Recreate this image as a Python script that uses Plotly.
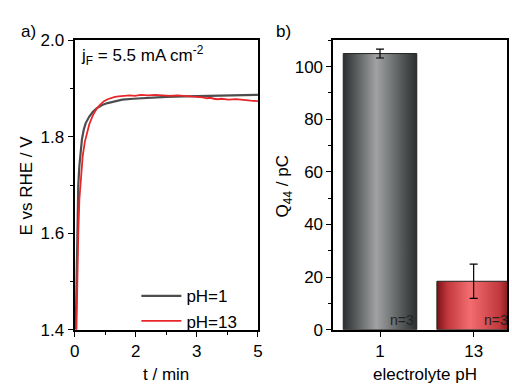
import plotly.graph_objects as go

# ---------------- data ----------------
t_ph1 = [0.03, 0.05, 0.07, 0.10, 0.13, 0.16, 0.20, 0.25, 0.30, 0.40, 0.50, 0.60, 0.75, 0.90,
         1.10, 1.30, 1.60, 2.00, 2.50, 3.00, 3.50, 4.00, 4.50, 5.00]
E_ph1 = [1.400, 1.520, 1.620, 1.700, 1.740, 1.770, 1.795, 1.815, 1.828, 1.842, 1.852, 1.859, 1.866, 1.870,
         1.874, 1.877, 1.879, 1.881, 1.883, 1.884, 1.885, 1.886, 1.886, 1.887]

t_ph13 = [0.05, 0.07, 0.10, 0.13, 0.17, 0.22, 0.28, 0.34, 0.40, 0.50, 0.60, 0.70, 0.80, 0.90, 1.00,
          1.10, 1.20, 1.35, 1.50, 1.65, 1.80, 2.00, 2.20, 2.40, 2.60, 2.80, 3.00, 3.10, 3.20, 3.30,
          3.40, 3.50, 3.60, 3.70, 3.80, 3.90, 4.00, 4.20, 4.40, 4.60, 4.80, 5.00]
E_ph13 = [1.400, 1.500, 1.600, 1.670, 1.720, 1.760, 1.790, 1.810, 1.826, 1.845, 1.858, 1.867, 1.874, 1.878, 1.881,
          1.883, 1.884, 1.885, 1.886, 1.885, 1.887, 1.886, 1.887, 1.886, 1.885, 1.886, 1.885, 1.884, 1.885, 1.883,
          1.884, 1.882, 1.880, 1.881, 1.879, 1.878, 1.879, 1.877, 1.878, 1.876, 1.875, 1.874]

time_tickvals = [0, 5 / 3, 10 / 3, 5]
time_ticktext = ["0", "2", "3", "5"]

ph_labels = ["1", "13"]
Q44 = [105.0, 18.4]
Q44_err = [1.7, 6.5]
n_labels = ["n=3", "n=3"]

# ---------------- styles ----------------
FONT = "Liberation Sans, Arial, sans-serif"
FS = 17
W, H = 512, 392
bar_w = 0.785
grad_scales = [
    [[0, "#2c2f30"], [0.12, "#4a4d4e"], [0.45, "#a0a2a3"], [0.85, "#4a4d4e"], [1, "#2c2f30"]],
    [[0, "#7a1216"], [0.15, "#c3393d"], [0.45, "#f26d70"], [0.85, "#c3393d"], [1, "#7a1216"]],
]

fig = go.Figure()

# panel a curves
fig.add_trace(go.Scatter(x=t_ph1, y=E_ph1, mode="lines", name="pH=1",
                         line=dict(color="#4d4d4d", width=2.2), xaxis="x", yaxis="y"))
fig.add_trace(go.Scatter(x=t_ph13, y=E_ph13, mode="lines", name="pH=13",
                         line=dict(color="#e8262a", width=1.8), xaxis="x", yaxis="y"))

# panel b bars (gradient-filled rectangles built from the data)
for i, (v, cs) in enumerate(zip(Q44, grad_scales)):
    x0, x1 = i - bar_w / 2, i + bar_w / 2
    fig.add_trace(go.Scatter(
        x=[x0, x1, x1, x0, x0], y=[0, 0, v, v, 0], mode="lines", fill="toself",
        fillgradient=dict(type="horizontal", colorscale=cs),
        line=dict(color="#222222", width=1), showlegend=False, hoverinfo="skip",
        xaxis="x2", yaxis="y2"))

fig.add_trace(go.Scatter(
    x=list(range(len(Q44))), y=Q44, mode="markers", marker=dict(size=0.1, color="black"),
    error_y=dict(type="data", array=Q44_err, color="black", thickness=1.2, width=4),
    showlegend=False, xaxis="x2", yaxis="y2"))

axis_common = dict(showline=True, linecolor="black", linewidth=2, mirror=True,
                   ticks="outside", ticklen=5, tickwidth=1.4, tickcolor="black",
                   showgrid=False, zeroline=False,
                   tickfont=dict(family=FONT, size=FS, color="black"))
minor_common = dict(ticks="outside", ticklen=3, tickwidth=1.3, tickcolor="black")

fig.update_layout(
    width=W, height=H,
    margin=dict(l=0, r=0, t=0, b=0),
    paper_bgcolor="white", plot_bgcolor="white",
    font=dict(family=FONT, size=FS, color="black"),
    xaxis=dict(domain=[71 / W, 258 / W], range=[0, 5], tickmode="array",
               tickvals=time_tickvals, ticktext=time_ticktext,
               minor=dict(tick0=0, dtick=5 / 6, **minor_common),
               anchor="y", **axis_common),
    yaxis=dict(domain=[55 / H, 359 / H], range=[1.4, 2.0], tickmode="array",
               tickvals=[1.4, 1.6, 1.8, 2.0], ticktext=["1.4", "1.6", "1.8", "2.0"],
               minor=dict(tick0=1.4, dtick=0.1, **minor_common),
               anchor="x", **axis_common),
    xaxis2=dict(domain=[335 / W, 1], range=[-0.497, 1.356], tickmode="array",
                tickvals=list(range(len(ph_labels))), ticktext=ph_labels,
                anchor="y2", **axis_common),
    yaxis2=dict(domain=[55 / H, 359 / H], range=[0, 110], tickmode="array",
                tickvals=[0, 20, 40, 60, 80, 100],
                minor=dict(tick0=0, dtick=10, **minor_common),
                anchor="x2", **axis_common),
    legend=dict(x=134 / W, y=1 - 283 / H, xanchor="left", yanchor="top",
                bgcolor="rgba(0,0,0,0)", font=dict(family=FONT, size=FS, color="black"),
                itemwidth=40, tracegroupgap=0),
    showlegend=True,
)

ann = []
ann.append(dict(text="a)", x=14 / W, y=1 - 24 / H, xref="paper", yref="paper",
                showarrow=False, xanchor="left", yanchor="middle", font=dict(size=FS)))
ann.append(dict(text="b)", x=274 / W, y=1 - 24 / H, xref="paper", yref="paper",
                showarrow=False, xanchor="left", yanchor="middle", font=dict(size=FS)))
ann.append(dict(text="j<sub>F</sub> = 5.5 mA cm<sup>-2</sup>", x=75 / W, y=1 - 49 / H,
                xref="paper", yref="paper", showarrow=False, xanchor="left", yanchor="middle",
                font=dict(size=FS)))
ann.append(dict(text="E vs RHE / V", x=22 / W, y=1 - 186 / H, xref="paper", yref="paper",
                showarrow=False, textangle=-90, xanchor="center", yanchor="middle",
                font=dict(size=FS)))
ann.append(dict(text="Q<sub>44</sub> / pC", x=285 / W, y=1 - 186 / H, xref="paper", yref="paper",
                showarrow=False, textangle=-90, xanchor="center", yanchor="middle",
                font=dict(size=FS)))
ann.append(dict(text="t / min", x=164 / W, y=1 - 384 / H, xref="paper", yref="paper",
                showarrow=False, xanchor="center", yanchor="middle", font=dict(size=FS)))
ann.append(dict(text="electrolyte pH", x=428 / W, y=1 - 384 / H, xref="paper", yref="paper",
                showarrow=False, xanchor="center", yanchor="middle", font=dict(size=FS)))
half_bar_px = bar_w / (1.356 + 0.497) * (W - 335)
for i, lab in enumerate(n_labels):
    ann.append(dict(text=lab, x=i, y=0, xref="x2", yref="y2", showarrow=False,
                    xanchor="right", yanchor="bottom", xshift=half_bar_px / 2 - 1, yshift=0,
                    font=dict(size=14, color="#222222")))
fig.update_layout(annotations=ann)

fig.write_html("out.html")
